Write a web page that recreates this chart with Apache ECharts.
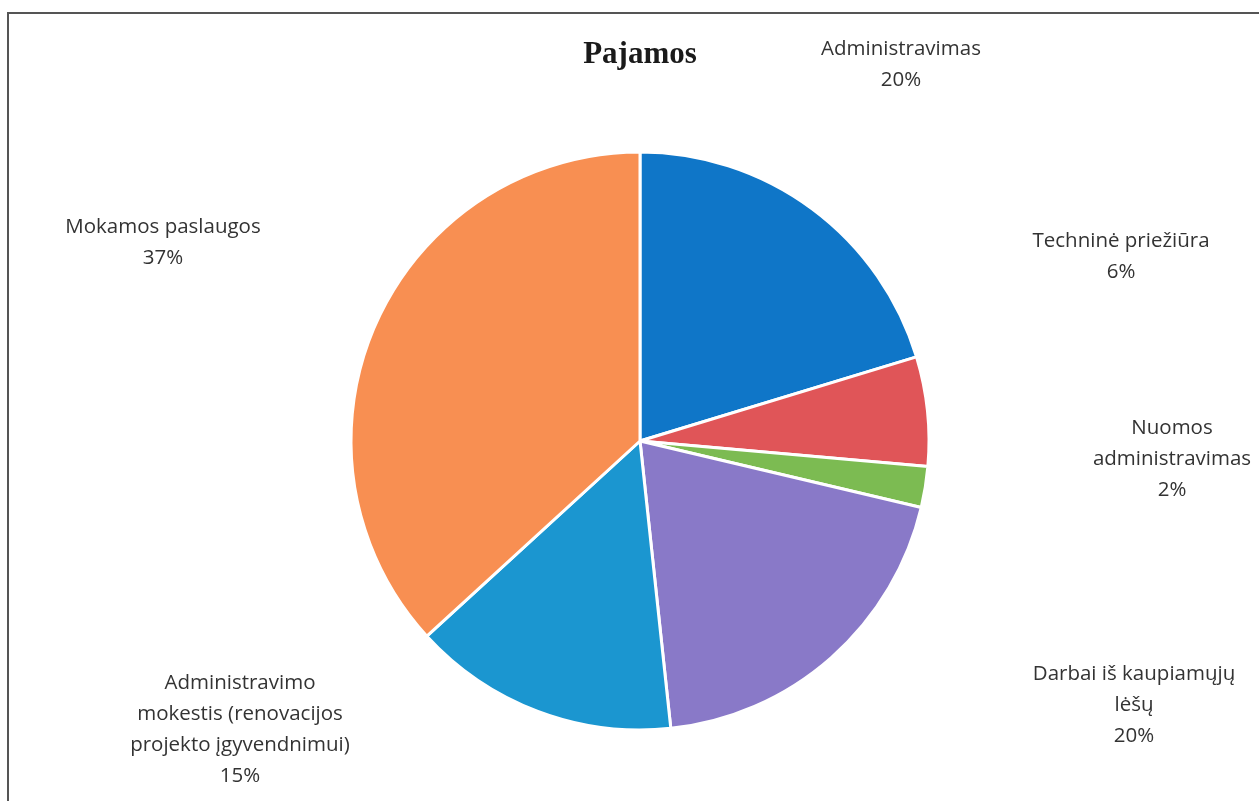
<!DOCTYPE html>
<html>
<head>
<meta charset="utf-8">
<script src="https://cdn.jsdelivr.net/npm/echarts@6/dist/echarts.min.js"></script>
<style>
html,body{margin:0;padding:0;background:#fff;}
#chart{width:1259px;height:801px;}
</style>
</head>
<body>
<div id="chart"></div>
<script>
// Data
const categories = [
  'Administravimas',
  'Techninė priežiūra',
  'Nuomos\nadministravimas',
  'Darbai iš kaupiamųjų\nlėšų',
  'Administravimo\nmokestis (renovacijos\nprojekto įgyvendnimui)',
  'Mokamos paslaugos'
];
const values = [20.3, 6.1, 2.3, 19.6, 14.9, 36.8];
const percentLabels = ['20%', '6%', '2%', '20%', '15%', '37%'];
const titleText = 'Pajamos';

// Styling / layout (not data)
const colors = ['#0f76c8', '#e05558', '#7cbb52', '#8979c8', '#1b96d0', '#f88f52'];
const labelCenters = [[901, 65], [1121, 257], [1172, 459], [1134, 705], [240, 730], [163, 243]];

const chart = echarts.init(document.getElementById('chart'));
const font = '"Open Sans", "DejaVu Sans", sans-serif';

chart.setOption({
  animation: false,
  backgroundColor: '#ffffff',
  title: {
    text: titleText,
    left: 635,
    top: 34,
    textAlign: 'center',
    textStyle: {
      fontFamily: '"Liberation Serif", "DejaVu Serif", serif',
      fontWeight: 'bold',
      fontSize: 31,
      color: '#1a1a1a'
    }
  },
  graphic: [
    { type: 'line', shape: { x1: 7, y1: 13, x2: 1259, y2: 13 }, style: { stroke: '#555', lineWidth: 2 } },
    { type: 'line', shape: { x1: 8, y1: 13, x2: 8, y2: 801 }, style: { stroke: '#555', lineWidth: 2 } }
  ],
  series: [{
    type: 'pie',
    center: [640, 441],
    radius: [0, 289],
    startAngle: 90,
    clockwise: true,
    avoidLabelOverlap: false,
    itemStyle: { borderColor: '#ffffff', borderWidth: 3 },
    label: {
      show: true,
      position: 'outside',
      formatter: function (p) { return categories[p.dataIndex] + '\n' + percentLabels[p.dataIndex]; },
      fontFamily: font,
      fontSize: 20.5,
      lineHeight: 31,
      color: '#333333',
      align: 'center'
    },
    labelLine: { show: false },
    labelLayout: function (params) {
      const c = labelCenters[params.dataIndex];
      return { x: c[0], y: c[1], align: 'center', verticalAlign: 'middle' };
    },
    emphasis: { disabled: true },
    data: categories.map(function (name, i) {
      return { name: name, value: values[i], itemStyle: { color: colors[i] } };
    })
  }]
});
</script>
</body>
</html>
